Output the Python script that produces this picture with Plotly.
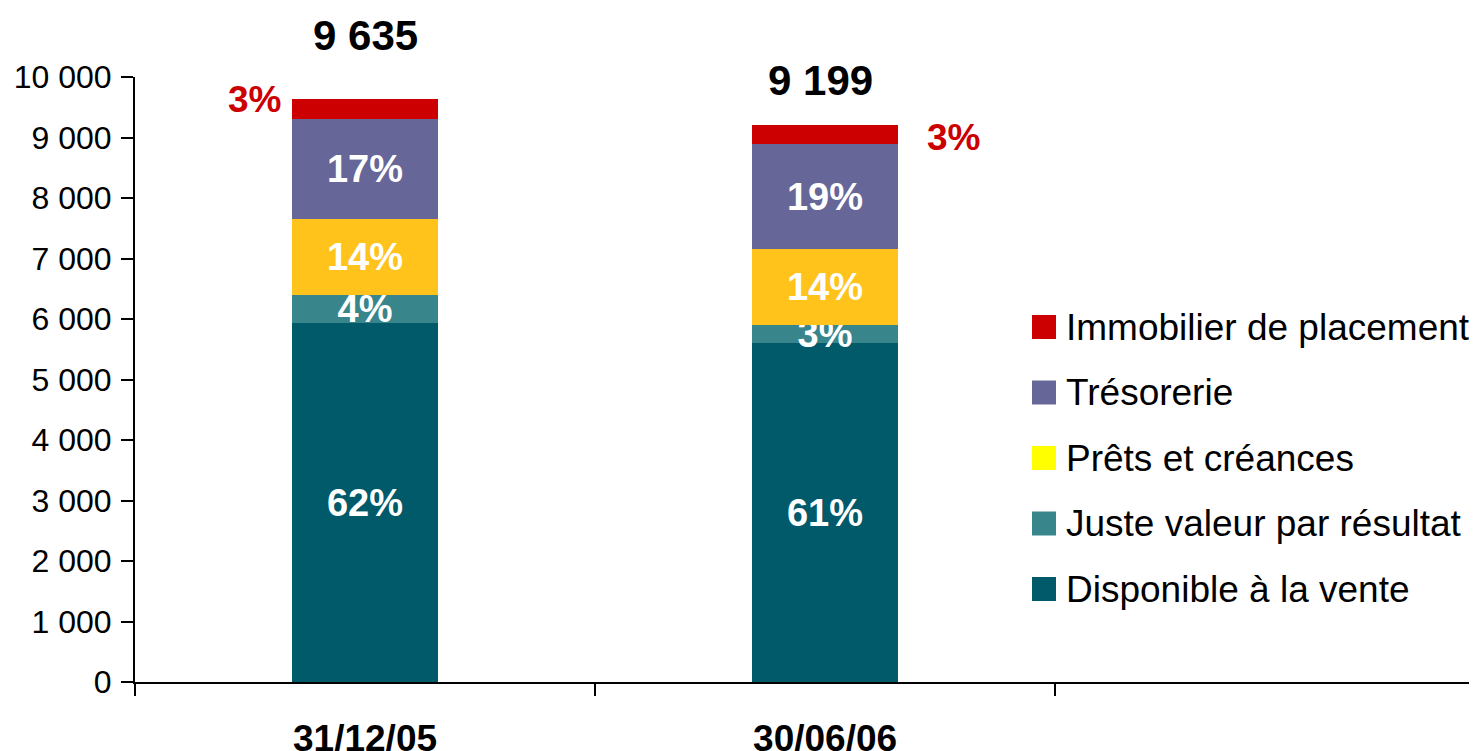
import plotly.graph_objects as go

# Catégories et valeurs
dates = ["31/12/05", "30/06/06"]
disponible = [5940, 5600]
juste_valeur = [460, 295]
prets = [1250, 1270]
tresorerie = [1650, 1735]
immobilier = [335, 299]
totals = [9635, 9199]

pct_disponible = ["62%", "61%"]
pct_juste_valeur = ["4%", "3%"]
pct_prets = ["14%", "14%"]
pct_tresorerie = ["17%", "19%"]
pct_immobilier = ["3%", "3%"]

names = [
    "Disponible à la vente",
    "Juste valeur par résultat",
    "Prêts et créances",
    "Trésorerie",
    "Immobilier de placement",
]
bar_colors = ["#005A69", "#38858C", "#FFC31C", "#666699", "#CC0000"]
legend_colors = ["#005A69", "#38858C", "#FFFF00", "#666699", "#CC0000"]

FONT = "Liberation Sans, Arial, sans-serif"

fig = go.Figure()
values = [disponible, juste_valeur, prets, tresorerie, immobilier]
labels = [pct_disponible, pct_juste_valeur, pct_prets, pct_tresorerie, None]
for name, vals, txt, col in zip(names, values, labels, bar_colors):
    fig.add_trace(
        go.Bar(
            x=dates, y=vals, name=name, marker=dict(color=col, line=dict(width=0)),
            width=0.317, showlegend=False,
            text=txt, textposition="inside" if txt else "none",
            insidetextanchor="middle", textangle=0,
            textfont=dict(color="white", size=38, family=FONT, weight="bold"),
            hoverinfo="x+y+name",
        )
    )

# Totaux au-dessus des barres
total_shift = [(0, 64), (-5, 45)]
for d, t, (xs, ys) in zip(dates, totals, total_shift):
    fig.add_annotation(
        x=d, y=t, xshift=xs, yshift=ys, text=f"{t:,}".replace(",", " "),
        showarrow=False, yanchor="middle",
        font=dict(size=42, color="black", family=FONT, weight="bold"),
    )

# Pourcentages "Immobilier" en rouge, hors des barres
red_side = [("right", -82), ("left", 100)]
red_y = [9620, 9008]
for d, p, (anchor, xs), yv in zip(dates, pct_immobilier, red_side, red_y):
    fig.add_annotation(
        x=d, y=yv, xshift=xs, xanchor=anchor, text=p, showarrow=False,
        font=dict(size=37, color="#CC0000", family=FONT, weight="bold"),
    )

# Légende manuelle (carrés de 24 px), positions en pixels d'écran
plot_left, plot_w, plot_top, plot_h = 135, 1342, 77, 605
row_px = [327, 392.5, 458, 523.5, 589]
for name, col, py in zip(names[::-1], legend_colors[::-1], row_px):
    y0 = (plot_top + plot_h - (py + 12)) / plot_h
    y1 = (plot_top + plot_h - (py - 12)) / plot_h
    fig.add_shape(
        type="rect", xref="paper", yref="paper",
        x0=(1032 - plot_left) / plot_w, x1=(1056 - plot_left) / plot_w,
        y0=y0, y1=y1, fillcolor=col, line=dict(width=0),
    )
    fig.add_annotation(
        xref="paper", yref="paper", x=(1064 - plot_left) / plot_w,
        y=(plot_top + plot_h - py) / plot_h, xanchor="left", yanchor="middle",
        text=name, showarrow=False,
        font=dict(size=37, color="black", family=FONT),
    )

# la page a une marge de 8 px : on la compense
fig.update_layout(
    width=1469, height=743,
    barmode="stack",
    bargap=0,
    separators=", ",
    plot_bgcolor="white", paper_bgcolor="white",
    margin=dict(l=127, r=0, t=69, b=69),
    font=dict(family=FONT, color="black"),
    uniformtext=dict(minsize=38, mode="show"),
    showlegend=False,
)
fig.update_xaxes(
    type="category", categoryorder="array", categoryarray=dates,
    range=[-0.5, 2.417], tickson="boundaries", automargin=False,
    ticks="outside", ticklen=12, tickwidth=2, tickcolor="black",
    showline=True, linecolor="black", linewidth=2, showgrid=False,
    tickfont=dict(size=37, color="black", family=FONT, weight="bold"),
    ticklabelstandoff=23,
)
fig.update_yaxes(
    range=[0, 10000], tick0=0, dtick=1000, tickformat=",", automargin=False,
    ticks="outside", ticklen=12, tickwidth=2, tickcolor="black",
    showline=True, linecolor="black", linewidth=2,
    showgrid=False, zeroline=False,
    tickfont=dict(size=32, color="black", family=FONT),
    ticklabelstandoff=3,
)

fig.write_html("out.html")
